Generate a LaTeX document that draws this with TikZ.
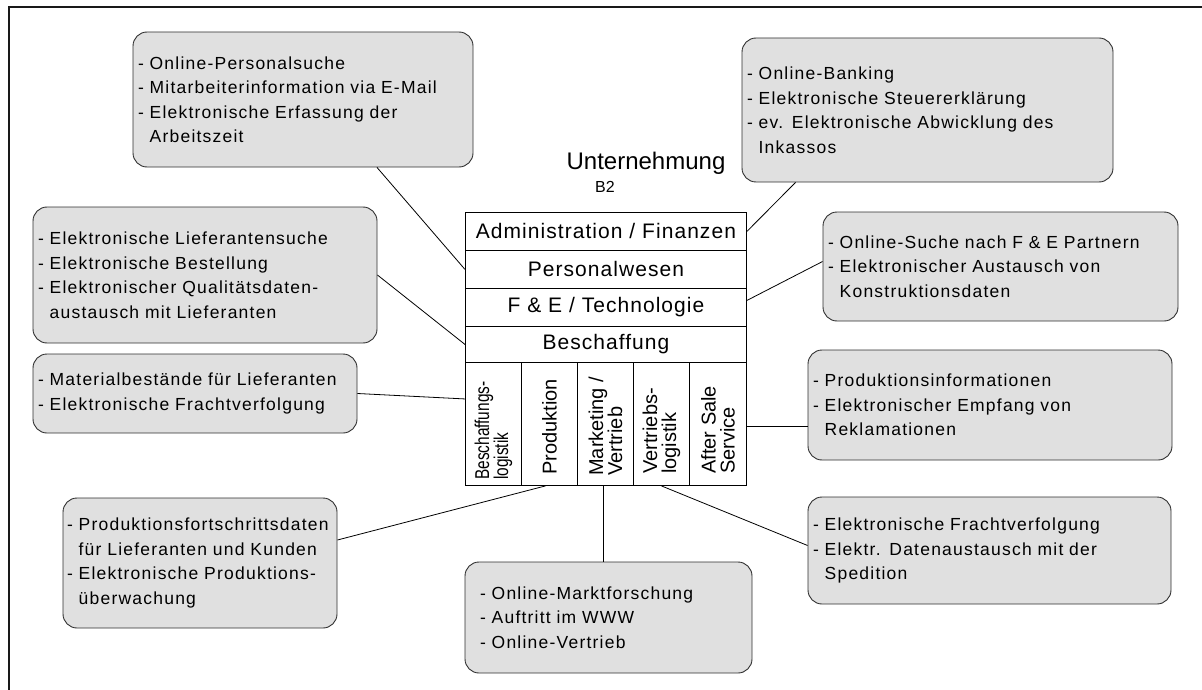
\documentclass[tikz,border=0pt]{standalone}
\usepackage{fontspec}
\setmainfont{Liberation Sans}
\newfontfamily\boxfont{Liberation Sans}[LetterSpace=7]
\newfontfamily\rowfont{Liberation Sans}[LetterSpace=5]
\usetikzlibrary{calc}
\definecolor{boxgray}{HTML}{E0E0E0}
\definecolor{edgegray}{HTML}{303030}
\newcommand{\ind}{\phantom{- }}
\newcommand{\squeeze}[1]{\scalebox{0.77}[1]{#1}}
\tikzset{
  infobox/.style={draw=edgegray, fill=boxgray, rounded corners=14pt, line width=0.9pt,
    align=left, inner sep=0pt, anchor=center, font=\fontsize{17.5}{24.5}\selectfont\boxfont},
  rowbox/.style={draw=black, line width=0.9pt, minimum width=281pt, inner sep=0pt,
    anchor=north west, font=\fontsize{21}{24}\selectfont\rowfont},
  colbox/.style={draw=black, line width=0.9pt, minimum width=56pt, minimum height=123pt,
    inner sep=0pt, anchor=north west},
  collabel/.style={rotate=90, anchor=west, align=left, inner sep=0pt,
    font=\fontsize{20}{19}\selectfont},
  link/.style={draw=black, line width=0.8pt},
}
\begin{document}
\begin{tikzpicture}[x=1pt,y=-1pt]
\useasboundingbox (0,0) rectangle (1202,690);
% outer frame, only its top and left edges lie inside the page
\draw[line width=2pt, draw=black!90] (9,700) -- (9,7) -- (1210,7);

% title
\node[font=\fontsize{24}{28}\selectfont] (title) at (646,163) {Unternehmung};
\node[font=\fontsize{16}{19}\selectfont] (btwo) at (605,187) {B2};

% central block: rows
\node[rowbox, minimum height=38pt] (admin) at (465,212) {Administration / Finanzen};
\node[rowbox, minimum height=38pt] (personal) at (465,250) {Personalwesen};
\node[rowbox, minimum height=38pt] (fe) at (465,288) {F \& E / Technologie};
\node[rowbox, minimum height=36pt] (besch) at (465,326) {Beschaffung};

% central block: columns
\node[colbox] (col1) at (465,362) {};
\node[colbox] (col2) at (521,362) {};
\node[colbox] (col3) at (577,362) {};
\node[colbox] (col4) at (633,362) {};
\node[colbox, minimum width=57pt] (col5) at (689,362) {};
\node[collabel] (lab1) at ([yshift=6pt]col1.south) {\squeeze{Beschaffungs-}\\\squeeze{logistik}};
\node[collabel] (lab2) at ([yshift=11pt]col2.south) {Produktion};
\node[collabel] (lab3) at ([yshift=10pt]col3.south) {Marketing /\\Vertrieb};
\node[collabel] (lab4) at ([yshift=12pt]col4.south) {Vertriebs-\\logistik};
\node[collabel] (lab5) at ([yshift=12pt]col5.south) {After Sale\\Service};

% surrounding boxes
\node[infobox, minimum width=340pt, minimum height=135pt, text width=330pt] (b1) at (303,99.5)
  {- Online-Personalsuche\\- Mitarbeiterinformation via E-Mail\\- Elektronische Erfassung der\\\ind Arbeitszeit};
\node[infobox, minimum width=371pt, minimum height=144pt, text width=361pt] (b2) at (927.5,110)
  {- Online-Banking\\- Elektronische Steuererklärung\\- ev. Elektronische Abwicklung des\\\ind Inkassos};
\node[infobox, minimum width=344pt, minimum height=136pt, text width=334pt] (b3) at (205,275)
  {- Elektronische Lieferantensuche\\- Elektronische Bestellung\\- Elektronischer Qualitätsdaten-\\\ind austausch mit Lieferanten};
\node[infobox, minimum width=355pt, minimum height=109pt, text width=345pt] (b4) at (1000.5,266.5)
  {- Online-Suche nach F \& E Partnern\\- Elektronischer Austausch von\\\ind Konstruktionsdaten};
\node[infobox, minimum width=324pt, minimum height=79pt, text width=314pt] (b5) at (195,393.5)
  {- Materialbestände für Lieferanten\\- Elektronische Frachtverfolgung};
\node[infobox, minimum width=364pt, minimum height=110pt, text width=354pt] (b6) at (990,405)
  {- Produktionsinformationen\\- Elektronischer Empfang von\\\ind Reklamationen};
\node[infobox, minimum width=274pt, minimum height=130pt, text width=266pt] (b7) at (200,563)
  {- Produktionsfortschrittsdaten\\\ind für Lieferanten und Kunden\\- Elektronische Produktions-\\\ind überwachung};
\node[infobox, minimum width=287pt, minimum height=111pt, text width=257pt] (b8) at (608.5,617.5)
  {- Online-Marktforschung\\- Auftritt im WWW\\- Online-Vertrieb};
\node[infobox, minimum width=363pt, minimum height=107pt, text width=353pt] (b9) at (989.5,550.5)
  {- Elektronische Frachtverfolgung\\- Elektr. Datenaustausch mit der\\\ind Spedition};

% connectors
\draw[link] ([xshift=74pt]b1.south) -- (personal.west);
\draw[link] (admin.east) -- ([xshift=-132pt]b2.south);
\draw[link] (b3.east) -- (besch.west);
\draw[link] ([yshift=7pt]fe.east) -- ([yshift=5pt]b4.west);
\draw[link] (b5.east) -- ([yshift=25pt]col1.west);
\draw[link] ([yshift=-2pt]col5.east) -- ([yshift=-2pt]col5.east -| b6.west);
\draw[link] ([xshift=-4pt]col2.south) -- ([yshift=23pt]b7.east);
\draw[link] ([xshift=-2pt]col3.south) -- ([xshift=-2pt]col3.south |- b8.north);
\draw[link] (col4.south) -- ([yshift=5pt]b9.west);
\end{tikzpicture}
\end{document}
